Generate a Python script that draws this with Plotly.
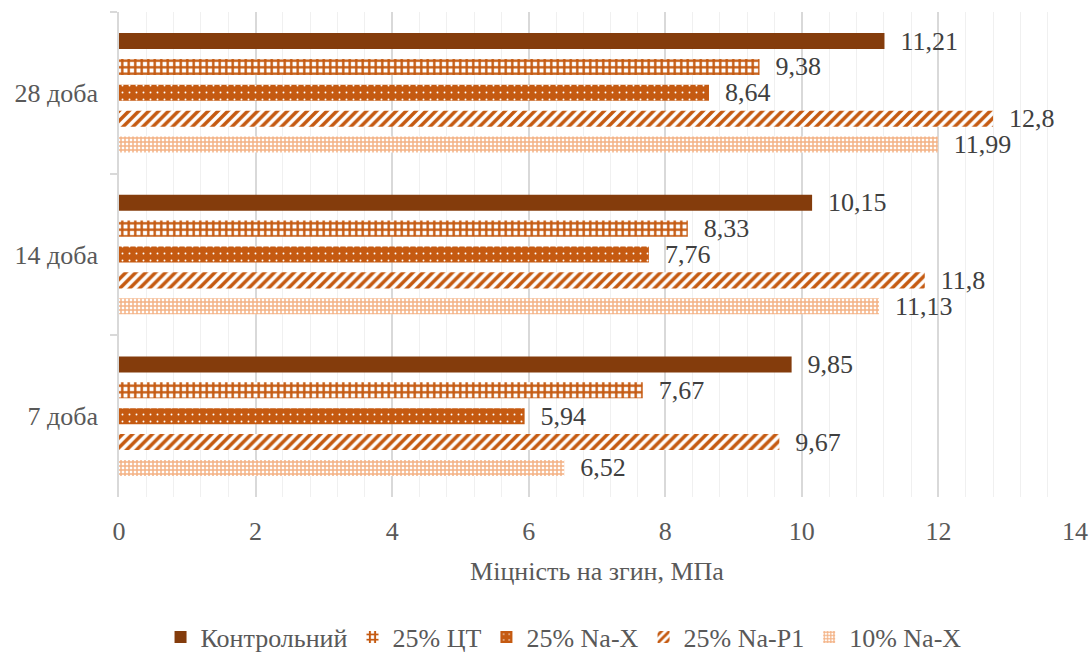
import plotly.graph_objects as go

# Flexural strength by curing age and mix
categories = ["28 доба", "14 доба", "7 доба"]
series_names = ["Контрольний", "25% ЦТ", "25% Na-X", "25% Na-P1", "10% Na-X"]
control = [11.21, 10.15, 9.85]
ct_25 = [9.38, 8.33, 7.67]
nax_25 = [8.64, 7.76, 5.94]
nap1_25 = [12.8, 11.8, 9.67]
nax_10 = [11.99, 11.13, 6.52]
x_ticks = [0, 2, 4, 6, 8, 10, 12, 14]

FONT = "Liberation Serif"
TXT = "#595959"
FS = 26

styles = [
    dict(color="#843C0C"),
    dict(color="#FFFFFF", pattern=dict(shape="+", fgcolor="#C55A11", bgcolor="#FFFFFF",
                                       fgopacity=1, size=6.5, solidity=0.6)),
    dict(color="#C55A11", pattern=dict(shape=".", fgcolor="#FFFFFF", bgcolor="#C55A11",
                                       fgopacity=1, size=7, solidity=0.06)),
    dict(color="#FFFFFF", pattern=dict(shape="/", fgcolor="#C55A11", bgcolor="#FFFFFF",
                                       fgopacity=1, size=7, solidity=0.5)),
    dict(color="#FFFFFF", pattern=dict(shape="+", fgcolor="#F4B183", bgcolor="#FFFFFF",
                                       fgopacity=1, size=4, solidity=0.6)),
]


def fmt(v):
    return "\u00a0\u00a0" + f"{v:g}".replace(".", ",")


fig = go.Figure()
for name, vals, st in zip(series_names, [control, ct_25, nax_25, nap1_25, nax_10], styles):
    fig.add_trace(go.Bar(
        name=name,
        y=categories,
        x=vals,
        orientation="h",
        marker=dict(**st, line=dict(width=0)),
        text=[fmt(v) for v in vals],
        textposition="outside",
        textfont=dict(family=FONT, size=FS, color="#404040"),
        constraintext="none",
        cliponaxis=False,
    ))

fig.update_layout(
    width=1092,
    height=652,
    margin=dict(l=119, r=17, t=12, b=155, autoexpand=False),
    paper_bgcolor="white",
    plot_bgcolor="white",
    barmode="group",
    bargap=0.2,
    bargroupgap=0.38,
    font=dict(family=FONT, size=FS, color=TXT),
    xaxis=dict(
        range=[0, 14],
        tickvals=x_ticks,
        showgrid=True,
        gridcolor="#D9D9D9",
        gridwidth=1.5,
        zeroline=False,
        showline=False,
        ticks="",
        ticklabelstandoff=16,
        tickfont=dict(family=FONT, size=FS, color=TXT),
        minor=dict(dtick=0.4, showgrid=True, gridcolor="#F0F0F0", gridwidth=1),
        title=dict(text="Міцність на згин, МПа", font=dict(family=FONT, size=FS, color=TXT),
                   standoff=16),
    ),
    yaxis=dict(
        type="category",
        autorange="reversed",
        showgrid=False,
        zeroline=False,
        showline=True,
        linecolor="#D9D9D9",
        linewidth=1.5,
        ticks="outside",
        tickson="boundaries",
        ticklen=7,
        tickcolor="#D9D9D9",
        tickwidth=1.5,
        ticklabelstandoff=14,
        tickfont=dict(family=FONT, size=FS, color=TXT),
    ),
    legend=dict(
        orientation="h",
        x=0.465,
        xanchor="center",
        y=-0.289,
        yanchor="middle",
        font=dict(family=FONT, size=FS, color=TXT),
        traceorder="normal",
    ),
)

fig.write_html("out.html")
